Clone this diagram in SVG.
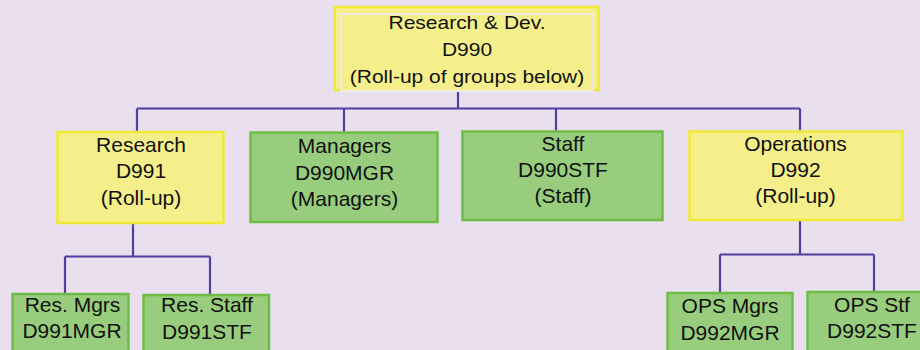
<svg xmlns="http://www.w3.org/2000/svg" width="920" height="350" viewBox="0 0 920 350">
  <style>
    .bg { fill: #E9DFEF; }
    .yel { fill: #F4EF8B; stroke: #F0E835; stroke-width: 2.5; }
    .grn { fill: #98CD7D; stroke: #6DBD45; stroke-width: 2.5; }
    .inner { fill: #F4EF8B; stroke: #EEEADF; stroke-width: 2; }
    .conn { fill: none; stroke: #4F3FA0; stroke-width: 2.2; }
    text { font-family: "Liberation Sans", Arial, sans-serif; font-size: 21px; fill: #111111; text-anchor: middle; }
  </style>
  <rect class="bg" x="0" y="0" width="920" height="350"/>

  <g id="connectors">
    <path class="conn" d="M458,90 V108.5"/>
    <path class="conn" d="M137,108.5 H800"/>
    <path class="conn" d="M137,108.5 V131"/>
    <path class="conn" d="M344,108.5 V131.5"/>
    <path class="conn" d="M556,108.5 V130.5"/>
    <path class="conn" d="M800,108.5 V130.5"/>
    <path class="conn" d="M133,223 V256.5"/>
    <path class="conn" d="M65,256.5 H210"/>
    <path class="conn" d="M65,256.5 V293"/>
    <path class="conn" d="M210,256.5 V294"/>
    <path class="conn" d="M800,220 V254.5"/>
    <path class="conn" d="M720,254.5 H874"/>
    <path class="conn" d="M720,254.5 V292"/>
    <path class="conn" d="M874,254.5 V291"/>
  </g>

  <g id="rd">
    <rect class="yel" x="334.5" y="7" width="264" height="83"/>
    <rect class="inner" x="341" y="14" width="252" height="77"/>
    <text transform="translate(467,29.3) scale(1,0.84)">Research &amp; Dev.</text>
    <text transform="translate(467,55.5) scale(1,0.84)">D990</text>
    <text transform="translate(467,82.5) scale(1,0.84)">(Roll-up of groups below)</text>
  </g>

  <g id="research">
    <rect class="yel" x="57.5" y="132" width="166" height="91"/>
    <text x="141" y="151.5">Research</text>
    <text x="141" y="178.3">D991</text>
    <text x="141" y="204.5">(Roll-up)</text>
  </g>

  <g id="managers">
    <rect class="grn" x="250.5" y="132.5" width="187" height="89.5"/>
    <text x="344.5" y="153">Managers</text>
    <text x="344.5" y="180">D990MGR</text>
    <text x="344.5" y="206">(Managers)</text>
  </g>

  <g id="staff">
    <rect class="grn" x="462.5" y="131.5" width="200" height="88.5"/>
    <text x="563" y="150.7">Staff</text>
    <text x="563" y="177.3">D990STF</text>
    <text x="563" y="203.3">(Staff)</text>
  </g>

  <g id="operations">
    <rect class="yel" x="689.5" y="131.5" width="213" height="88.5"/>
    <text x="795.5" y="150.7">Operations</text>
    <text x="795.5" y="177.3">D992</text>
    <text x="795.5" y="203.3">(Roll-up)</text>
  </g>

  <g id="resmgrs">
    <rect class="grn" x="12.5" y="294" width="116" height="70"/>
    <text x="72.5" y="311.7">Res. Mgrs</text>
    <text x="72" y="338.3">D991MGR</text>
  </g>

  <g id="resstaff">
    <rect class="grn" x="143.5" y="295" width="125.5" height="70"/>
    <text x="207" y="312.3">Res. Staff</text>
    <text x="207" y="339.3">D991STF</text>
  </g>

  <g id="opsmgrs">
    <rect class="grn" x="667.5" y="293" width="125" height="70"/>
    <text x="730" y="313.3">OPS Mgrs</text>
    <text x="730" y="340">D992MGR</text>
  </g>

  <g id="opsstf">
    <rect class="grn" x="807.5" y="292" width="130" height="70"/>
    <text x="872" y="311.7">OPS Stf</text>
    <text x="872" y="338.3">D992STF</text>
  </g>
</svg>
